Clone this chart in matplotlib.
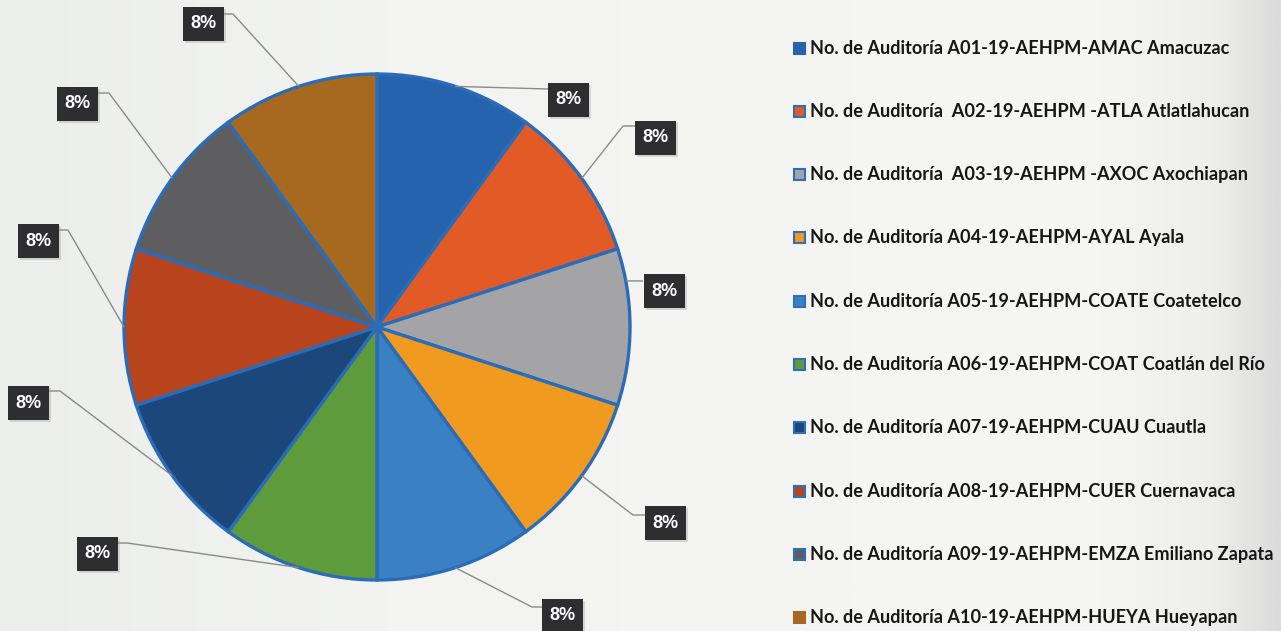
import numpy as np
import matplotlib
matplotlib.use("Agg")
import matplotlib.pyplot as plt
from matplotlib.patches import Rectangle
from matplotlib.colors import LinearSegmentedColormap

# data
audits = [
    "No. de Auditoría A01-19-AEHPM-AMAC Amacuzac",
    "No. de Auditoría  A02-19-AEHPM -ATLA Atlatlahucan",
    "No. de Auditoría  A03-19-AEHPM -AXOC Axochiapan",
    "No. de Auditoría A04-19-AEHPM-AYAL Ayala",
    "No. de Auditoría A05-19-AEHPM-COATE Coatetelco",
    "No. de Auditoría A06-19-AEHPM-COAT Coatlán del Río",
    "No. de Auditoría A07-19-AEHPM-CUAU Cuautla",
    "No. de Auditoría A08-19-AEHPM-CUER Cuernavaca",
    "No. de Auditoría A09-19-AEHPM-EMZA Emiliano Zapata",
    "No. de Auditoría A10-19-AEHPM-HUEYA Hueyapan",
]
shares = [8, 8, 8, 8, 8, 8, 8, 8, 8, 8]

# styles
colors = ["#2563ad", "#e25b26", "#a4a4a6", "#f09a20", "#3a81c3",
          "#5e9b3d", "#1c477b", "#b7441d", "#5e5e60", "#a7691f"]
legend_edges = ["#2563ad", "#2f6fba", "#2f6fba", "#2f6fba", "#2f6fba",
                "#2f6fba", "#2f6fba", "#2f6fba", "#2f6fba", "#a7691f"]
edge_blue = "#2b6cb8"

# layout (figure pixels, y downwards)
W, H = 1281, 631
center = (377, 327)
radius = 253
box_centers = [(568, 100), (655, 138), (664, 291), (665, 523), (562, 616),
               (97, 554), (28, 403), (38, 241), (77, 104), (203, 24)]
elbows = [(548, 89), (623, 126), (643, 281), (633, 515), (532, 607),
          (127, 543), (60, 391), (68, 230), (109, 93), (233, 14)]
attach = [(548, 89), (635, 126), (643, 281), (645, 515), (542, 607),
          (118, 543), (49, 391), (59, 230), (97, 93), (223, 14)]
anchor_shift = [0, 0, -10.5, 0, 0, 0, 0, 0, 0, 0]
box_w, box_h = 41, 34
legend_x, legend_y0, legend_dy = 810, 48, 63.3
legend_width = 418

fig = plt.figure(figsize=(W / 100, H / 100), dpi=100)
ax = fig.add_axes([0, 0, 1, 1])

# soft paper background, greying towards the right edge
bg = LinearSegmentedColormap.from_list(
    "bg", [(0.0, "#eceeec"), (0.3, "#f3f4f2"), (0.85, "#f6f6f4"),
           (0.95, "#eeeeed"), (1.0, "#dcdcdc")])
ax.imshow(np.linspace(0, 1, 600)[None, :], cmap=bg, aspect="auto",
          extent=[0, W, H, 0], zorder=0, vmin=0, vmax=1)

wedges, _ = ax.pie(
    shares, colors=colors, startangle=-90, counterclock=True,
    center=center, radius=radius,
    wedgeprops=dict(edgecolor=edge_blue, linewidth=2.4),
)

for i, w in enumerate(wedges):
    mid = np.deg2rad((w.theta1 + w.theta2) / 2 + anchor_shift[i])
    ax0 = center[0] + radius * np.cos(mid)
    ay0 = center[1] + radius * np.sin(mid)
    xs = [ax0, elbows[i][0], attach[i][0]]
    ys = [ay0, elbows[i][1], attach[i][1]]
    ax.plot(xs, ys, color="#8a8a8a", lw=1.0, zorder=3, solid_capstyle="butt")
    bx, by = box_centers[i]
    ax.add_patch(Rectangle((bx - box_w / 2 + 2, by - box_h / 2 + 2), box_w, box_h,
                           facecolor="#9a9a9a", alpha=0.35, lw=0, zorder=4))
    ax.add_patch(Rectangle((bx - box_w / 2, by - box_h / 2), box_w, box_h,
                           facecolor="#2e2e30", lw=0, zorder=5))
    ax.text(bx, by, f"{shares[i]}%", color="white", fontsize=13,
            fontweight="bold", family="Liberation Sans",
            ha="center", va="center", zorder=6)

# legend
texts = []
for i, name in enumerate(audits):
    y = legend_y0 + i * legend_dy
    ax.add_patch(Rectangle((legend_x - 16, y - 5.5), 11, 11, facecolor=colors[i],
                           edgecolor=legend_edges[i], lw=1.5, zorder=5))
    t = ax.text(legend_x, y, name, fontsize=13, family="Lato", fontweight="bold",
                color="#161616", ha="left", va="center", zorder=5)
    texts.append(t)

ax.set_xlim(0, W)
ax.set_ylim(H, 0)
ax.set_aspect("auto")
ax.axis("off")

# fit legend text width to the reference
renderer = fig.canvas.get_renderer()
wpx = texts[0].get_window_extent(renderer).width
for t in texts:
    t.set_fontsize(13 * legend_width / wpx)

fig.savefig("out.png", dpi=100)
